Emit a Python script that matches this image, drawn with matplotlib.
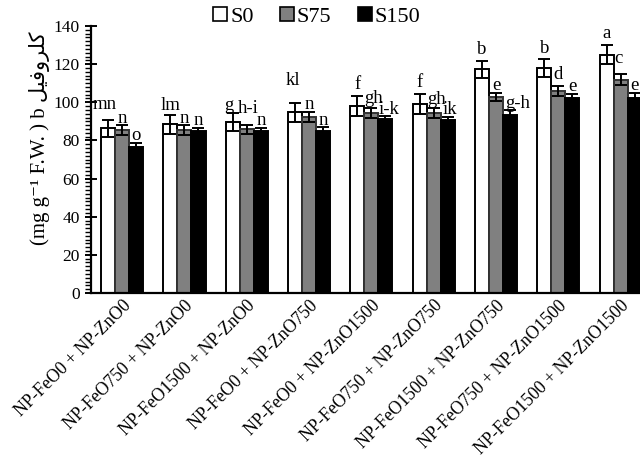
import matplotlib
matplotlib.use("Agg")
import matplotlib.pyplot as plt
from matplotlib.patches import Patch
from matplotlib.ticker import MultipleLocator
import numpy as np

plt.rcParams['font.family'] = ['Liberation Serif', 'DejaVu Sans']

treatments = ["NP-FeO0 + NP-ZnO0", "NP-FeO750 + NP-ZnO0", "NP-FeO1500 + NP-ZnO0",
              "NP-FeO0 + NP-ZnO750", "NP-FeO0 + NP-ZnO1500", "NP-FeO750 + NP-ZnO750",
              "NP-FeO1500 + NP-ZnO750", "NP-FeO750 + NP-ZnO1500", "NP-FeO1500 + NP-ZnO1500"]
series = ["S0", "S75", "S150"]

s0 = [86.4, 88.4, 89.8, 94.7, 98.1, 99.1, 117.3, 117.9, 125.0]
s75 = [85.5, 85.5, 85.8, 92.4, 94.6, 94.2, 102.9, 105.7, 111.8]
s150 = [76.4, 85.0, 85.1, 85.0, 91.1, 90.8, 93.3, 102.3, 102.1]

s0_err = [4.5, 4.9, 4.7, 4.8, 5.2, 5.3, 4.5, 4.8, 4.8]
s75_err = [2.5, 2.5, 2.4, 2.6, 2.6, 2.6, 2.2, 2.6, 2.8]
s150_err = [2.4, 1.6, 1.5, 1.8, 1.5, 1.5, 2.4, 2.3, 2.8]

s0_letters = ["mn", "lm", "g", "kl", "f", "f", "b", "b", "a"]
s75_letters = ["n", "n", "h-i", "n", "gh", "gh", "e", "d", "c"]
s150_letters = ["o", "n", "n", "n", "i-k", "ik", "g-h", "e", "e"]

# "کلروفیل" in presentation forms, laid out left to right
chl = "\uFEDE\uFBFF\uFED3\uFEED\uFEAE\uFEE0\uFB90"

# per-label nudges (x in category units, y in data units)
nudge = {(0, 0): (-0.06, 4.5), (0, 1): (0.0, 1.5), (0, 2): (-0.06, 0.0),
         (0, 3): (-0.03, 8.5), (0, 4): (0.0, 2.5), (0, 5): (0.0, 2.5),
         (0, 6): (0.0, 2.0), (0, 7): (0.0, 2.0), (0, 8): (0.0, 2.5),
         (1, 2): (0.02, 5.0), (1, 4): (0.04, 1.0), (1, 5): (0.04, 1.0),
         (1, 8): (-0.04, 4.5), (1, 7): (0.0, 2.5),
         (2, 4): (0.06, 0.0), (2, 5): (0.03, 0.0), (2, 6): (0.12, 0.0)}

fig = plt.figure(figsize=(6.4, 4.59), dpi=100)
ax = fig.add_axes([91 / 640, 1 - 293 / 459, 549 / 640, 267 / 459])

x = np.arange(len(treatments))
w = 0.225
colors = ["white", "#808080", "black"]
edges = ["black", "#333333", "black"]
vals = [s0, s75, s150]
errs = [s0_err, s75_err, s150_err]
lets = [s0_letters, s75_letters, s150_letters]

for i in range(3):
    pos = x + (i - 1) * w
    ax.bar(pos, vals[i], w, color=colors[i], edgecolor=edges[i], linewidth=1.4, zorder=2)
    ax.errorbar(pos, vals[i], yerr=errs[i], fmt="none", ecolor="black",
                elinewidth=1.4, capsize=4.5, capthick=1.4, zorder=3)
    for j, (p, v, e, t) in enumerate(zip(pos, vals[i], errs[i], lets[i])):
        dx, dy = nudge.get((i, j), (0.0, 0.0))
        ax.text(p + dx, v + e - 0.8 + dy, t, ha="center", va="bottom", fontsize=13.5, zorder=4)

ax.set_xlim(-0.5, 8.31)
ax.set_ylim(0, 140)
ax.yaxis.set_major_locator(MultipleLocator(20))
ax.yaxis.set_minor_locator(MultipleLocator(2))
ax.tick_params(axis="y", which="major", direction="inout", length=9, width=1.4, labelsize=12.5)
ax.tick_params(axis="y", which="minor", direction="out", length=4, width=1.0)
ax.tick_params(axis="x", length=0, pad=3)
ax.set_xticks(x)
ax.set_xticklabels(treatments, rotation=45, ha="right", rotation_mode="anchor", fontsize=12.8)

for s in ["top", "right"]:
    ax.spines[s].set_visible(False)
for s in ["left", "bottom"]:
    ax.spines[s].set_linewidth(1.6)

fig.text(40 / 640, 1 - 138 / 459, "(mg g\u207b\u00b9 F.W. ) b " + chl,
         rotation=90, ha="center", va="center", fontsize=15)

handles = [Patch(facecolor=c, edgecolor="black", linewidth=1.2) for c in colors]
fig.legend(handles, series, loc="center", bbox_to_anchor=(317 / 640, 1 - 17 / 459),
           ncol=3, frameon=False, fontsize=16, handlelength=0.6, handleheight=0.6,
           handletextpad=0.15, columnspacing=1.2, borderpad=0)

fig.savefig("out.png", dpi=100)
